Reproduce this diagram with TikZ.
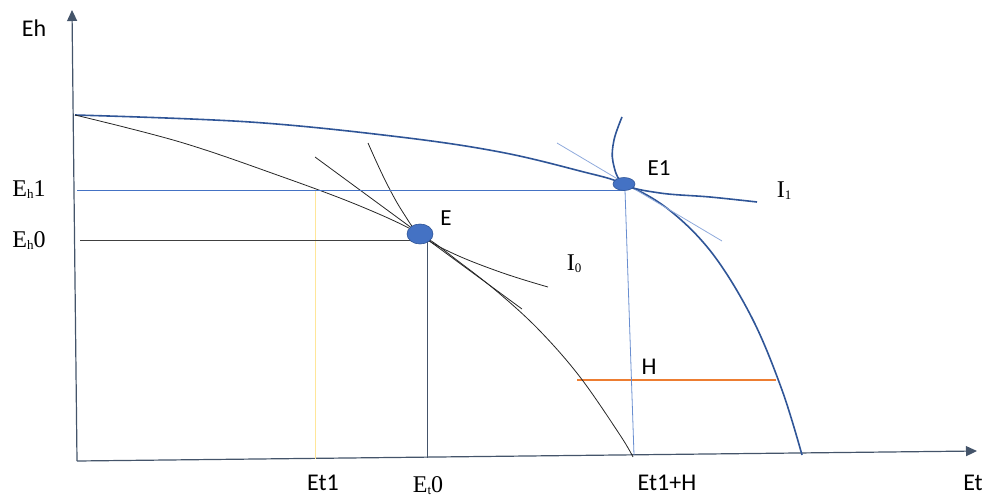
\documentclass[tikz,border=0pt]{standalone}
\usepackage{fontspec}
\setmainfont{Liberation Serif}
\newfontfamily\carlitofont{Carlito}
\usetikzlibrary{arrows.meta,shapes.geometric}
\definecolor{axisc}{HTML}{44546A}
\definecolor{dblue}{HTML}{2F5597}
\definecolor{mblue}{HTML}{4472C4}
\definecolor{lblue}{HTML}{8FAADC}
\definecolor{orng}{HTML}{ED7D31}
\definecolor{ylw}{HTML}{FFE699}
\tikzset{
  axisline/.style={draw=axisc, line width=1.2pt, -{Triangle[length=11pt,width=10pt]}},
  sanslab/.style={font=\carlitofont\fontsize{24}{24}\selectfont, text=black, inner sep=0pt},
  seriflab/.style={font=\fontsize{24}{24}\selectfont, text=black, inner sep=0pt},
  smalllab/.style={font=\carlitofont\fontsize{23}{23}\selectfont, text=black, inner sep=0pt},
  thinblack/.style={draw=black!85, line width=0.8pt},
  bigcurve/.style={draw=dblue, line width=1.6pt},
  dot/.style={ellipse, fill=mblue, draw=dblue, line width=0.6pt, inner sep=0pt}
}
\newcommand{\sbh}[1]{{\fontsize{13}{13}\selectfont\raisebox{-2pt}{#1}}}
\begin{document}
\begin{tikzpicture}[x=1pt,y=-1pt]
\useasboundingbox (0,0) rectangle (986,498);
% axes
\coordinate (O) at (77,461);
\coordinate (ytop) at (72,10);
\coordinate (xend) at (977,451);
\draw[axisline] (O) -- (ytop);
\draw[axisline] (O) -- (xend);
% reference lines
\coordinate (Eh1L) at (77,190);
\coordinate (Eh0L) at (80,240);
\coordinate (Et1top) at (315,190);
\coordinate (Et1bot) at (315,459);
\coordinate (E0top) at (427,240);
\coordinate (E0bot) at (427,458);
\coordinate (E1top) at (625,190);
\coordinate (E1bot) at (634,455);
\draw[ylw, line width=0.8pt] (Et1top) -- (Et1bot);
% orange H
\coordinate (Hl) at (577,380);
\coordinate (Hr) at (776,380);
\draw[orng, line width=1.2pt] (Hl) -- (Hr);
% outer PPF
\draw[bigcurve] plot[smooth, tension=0.6] coordinates {(75,115) (250,122) (400,137) (500,152) (580,171) (624,184) (668,209) (712,253) (752,318) (782,390) (802,455)};
% inner PPF
\draw[thinblack] plot[smooth, tension=0.6] coordinates {(75,115) (180,142) (280,176) (360,206) (420,234) (460,262.5) (500,294) (540,331) (580,377) (620,435) (633,457)};
% tangent at E
\coordinate (tE1) at (315,157);
\coordinate (tE2) at (522,309);
\draw[thinblack] (tE1) -- (tE2);
% I0
\draw[thinblack] plot[smooth, tension=0.7] coordinates {(368,143) (386,182) (404,214) (420,234) (450,252) (500,272) (548,287)};
% tangent at E1
\coordinate (tF1) at (557,143);
\coordinate (tF2) at (722,241);
\draw[lblue, line width=0.8pt] (tF1) -- (tF2);
% I1
\draw[bigcurve] plot[smooth, tension=0.6] coordinates {(622,117) (614,140) (613,162) (624,184) (660,193) (710,197) (757,202)};
% drop lines
\draw[mblue, line width=1pt] (Eh1L) -- (E1top);
\draw[black!75, line width=1pt] (Eh0L) -- (E0top);
\draw[axisc, line width=1pt] (E0top) -- (E0bot);
\draw[mblue!80, line width=0.8pt] (E1top) -- (E1bot);
% dots
\node[dot, minimum width=26pt, minimum height=20pt] (E) at (420,234) {};
\node[dot, minimum width=22pt, minimum height=13pt] (E1) at (624,184) {};
% labels
\node[sanslab] (lEh) at (34,28) {Eh};
\node[sanslab] (lEt) at (973,483) {Et};
\node[seriflab] (lEh1) at (29,190) {E\sbh{h}1};
\node[seriflab] (lEh0) at (29,241) {E\sbh{h}0};
\node[sanslab] (lEt1) at (323,483) {Et1};
\node[seriflab] (lEt0) at (428,486) {E\sbh{t}0};
\node[sanslab] (lEt1H) at (667,483) {Et1+H};
\node[sanslab] (lH) at (649,367) {H};
\node[smalllab] (lE) at (446,218) {E};
\node[smalllab] (lE1) at (659,168) {E1};
\node[seriflab] (lI0) at (574,264) {I\sbh{0}};
\node[seriflab] (lI1) at (784,191) {I\sbh{1}};
\end{tikzpicture}
\end{document}
